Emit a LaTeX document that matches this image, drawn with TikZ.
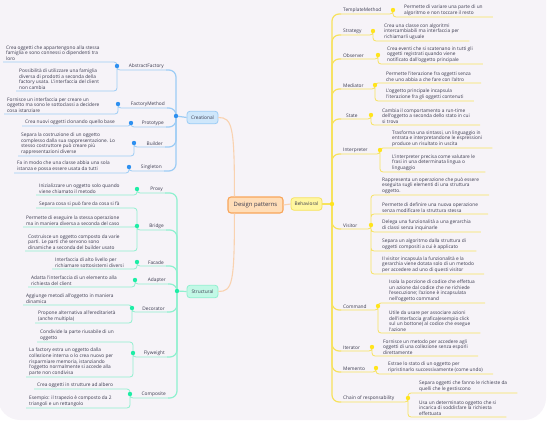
\documentclass[tikz,border=0pt]{standalone}
\usepackage{fontspec}
\usepackage{tikz}
\newfontfamily\mapfont{Open Sans}
\newcommand{\mapsize}{\mapfont\fontsize{4.8}{5.7}\selectfont}
\definecolor{bgcol}{HTML}{F6F3F8}
\definecolor{txt}{HTML}{3A3A4E}
\definecolor{rootfill}{HTML}{FFDDB8}
\definecolor{rootline}{HTML}{F8A55A}
\definecolor{rootlink}{HTML}{F9D2B0}
\definecolor{crefill}{HTML}{CFE7FB}
\definecolor{creline}{HTML}{9CCCF5}
\definecolor{credot}{HTML}{2E90F0}
\definecolor{strfill}{HTML}{C2F8E6}
\definecolor{strline}{HTML}{8FF0CF}
\definecolor{strdot}{HTML}{1EEDA6}
\definecolor{behfill}{HTML}{FFF6A0}
\definecolor{behline}{HTML}{F6E25E}
\definecolor{behdot}{HTML}{FFE41C}

\begin{document}
\begin{tikzpicture}[x=1pt, y=-1pt]
\tikzstyle{root} = [draw=rootline, fill=rootfill, line width=1.1pt, rounded corners=3pt, minimum width=55pt, minimum height=16pt, inner sep=0pt, text=txt, font=\mapfont\fontsize{5.9}{7}\selectfont]
\tikzstyle{topic} = [line width=0.8pt, rounded corners=3pt, minimum width=31pt, minimum height=12.5pt, inner sep=0pt, text=txt, font=\mapsize]
\tikzstyle{lbl} = [inner xsep=2pt, inner ysep=1pt, text=txt, font=\mapsize]
\tikzstyle{leaf} = [align=left, inner xsep=3pt, inner ysep=1.2pt, text=txt, font=\mapsize, anchor=south west]
\tikzstyle{spine} = [draw, line width=1.2pt, rounded corners=7pt]
\tikzstyle{stem} = [draw, line width=0.8pt, rounded corners=3pt]

\useasboundingbox (0,0) rectangle (550,429);
\fill[bgcol, rounded corners=22pt] (-2,-30) rectangle (546,420);

% central topic and main branches
\node[root] (dp) at (255.5,205) {Design patterns};
\node[topic, draw=creline, fill=crefill] (cre) at (202.5,117.5) {Creational};
\node[topic, draw=strline, fill=strfill] (str) at (202.5,291.5) {Structural};
\node[topic, draw=behline, fill=behfill] (beh) at (306.5,204) {Behavioral};
\coordinate (cdot) at (176,116);
\coordinate (sdot) at (177,291);
\coordinate (bdot) at (332,204);

% Behavioral
\node[lbl, anchor=south west] (tml) at (341,14) {TemplateMethod};
\coordinate (tmd) at (393,10);
\node[leaf] (tm1) at (401,17) {Permette di variare una parte di un\\algoritmo e non toccare il resto};

\node[lbl, anchor=south west] (stl) at (341,35) {Strategy};
\coordinate (std) at (373,31);
\node[leaf] (st1) at (381,41) {Crea una classe con algoritmi\\intercambiabili ma interfaccia per\\richiamarli uguale};

\node[lbl, anchor=south west] (obl) at (341,59) {Observer};
\coordinate (obd) at (378,55);
\node[leaf] (ob1) at (384,64) {Crea eventi che si scatenano in tutti gli\\oggetti registrati quando viene\\notificato dall'oggetto principale};

\node[lbl, anchor=south west] (mel) at (341,89) {Mediator};
\coordinate (med) at (375,85);
\node[leaf] (me1) at (383,83) {Permette l'iterazione fra oggetti senza\\che uno abbia a che fare con l'altro};
\node[leaf] (me2) at (383,101) {L'oggetto principale incapsula\\l'iterazione fra gli oggetti contenuti};

\node[lbl, anchor=south west] (sal) at (344,119) {State};
\coordinate (sad) at (371,115);
\node[leaf] (sa1) at (379,125) {Cambia il comportamento a run-time\\dell'oggetto a seconda dello stato in cui\\si trova};

\node[lbl, anchor=south west] (inl) at (341,154) {Interpreter};
\coordinate (ind) at (380,150);
\node[leaf] (in1) at (389,148) {Trasforma una sintassi, un linguaggio in\\entrata e interpretandone le espressioni\\produce un risultato in uscita};
\node[leaf] (in2) at (389,172) {L'interpreter precisa come valutare le\\frasi in una determinata lingua o\\linguaggio};

\node[lbl, anchor=south west] (vil) at (341,229) {Visitor};
\coordinate (vid) at (371,225);
\node[leaf] (vi1) at (379,195) {Rappresenta un operazione che può essere\\eseguita sugli elementi di una struttura\\oggetto.};
\node[leaf] (vi2) at (379,214) {Permette di definire una nuova operazione\\senza modificare la struttura stessa};
\node[leaf] (vi3) at (379,232) {Delega una funzionalità a una gerarchia\\di classi senza inquinarle};
\node[leaf] (vi4) at (379,251) {Separa un algoritmo dalla struttura di\\oggetti compositi a cui è applicato};
\node[leaf] (vi5) at (379,274) {Il visitor incapsula la funzionalità e la\\gerarchia viene dotata solo di un metodo\\per accedere ad uno di questi visitor};

\node[lbl, anchor=south west] (col) at (341,310) {Command};
\coordinate (cod) at (378,306);
\node[leaf] (co1) at (386,303) {Isola la porzione di codice che effettua\\un azione dal codice che ne richiede\\l'esecuzione; l'azione è incapsulata\\nell'oggetto command};
\node[leaf] (co2) at (386,333) {Utile da usare per associare azioni\\dell'interfaccia grafica(esempio click\\sul un bottone) al codice che esegue\\l'azione};

\node[lbl, anchor=south west] (itl) at (341,351) {Iterator};
\coordinate (itd) at (372,347);
\node[leaf] (it1) at (380,356) {Fornisce un metodo per accedere agli\\oggetti di una collezione senza esporli\\direttamente};

\node[lbl, anchor=south west] (mml) at (341,372) {Memento};
\coordinate (mmd) at (376,368);
\node[leaf] (mm1) at (385,374) {Estrae lo stato di un oggetto per\\ripristinarlo successivamente (come undo)};

\node[lbl, anchor=south west] (chl) at (341,402) {Chain of responsability};
\coordinate (chd) at (408,398);
\node[leaf] (ch1) at (416,393) {Separa oggetti che fanno le richieste da\\quelli che le gestiscono};
\node[leaf] (ch2) at (416,417) {Usa un determinato oggetto che si\\incarica di soddisfare la richiesta\\effettuata};

% Creational
\node[lbl, anchor=south east] (afl) at (166,70) {AbstractFactory};
\coordinate (afd) at (117,66);
\node[leaf] (af1) at (3,62) {Crea oggetti che appartengono alla stessa\\famiglia e sono connessi o dipendenti tra\\loro};
\node[leaf] (af2) at (16,91) {Possibilità di utilizzare una famiglia\\diversa di prodotti a seconda della\\factory usata. L'interfaccia del client\\non cambia};

\node[lbl, anchor=south east] (fml) at (167,108) {FactoryMethod};
\coordinate (fmd) at (118,104);
\node[leaf] (fm1) at (4,114) {Fornisce un interfaccia per creare un\\oggetto ma sono le sottoclassi a decidere\\cosa istanziare};

\node[lbl, anchor=south east] (prl) at (166,127) {Prototype};
\coordinate (prd) at (131,123);
\node[leaf] (pr1) at (22,126) {Crea nuovi oggetti clonando quello base};

\node[lbl, anchor=south east] (bul) at (165,147) {Builder};
\coordinate (bud) at (134,143);
\node[leaf] (bu1) at (18,156) {Separa la costruzione di un oggetto\\complesso dalla sua rappresentazione.  Lo\\stesso costruttore può creare più\\rappresentazioni diverse};

\node[lbl, anchor=south east] (sil) at (164,171) {Singleton};
\coordinate (sid) at (129,167);
\node[leaf] (si1) at (14,173) {Fa in modo che una classe abbia una sola\\istanza e possa essere usata da tutti};

% Structural
\node[lbl, anchor=south east] (pxl) at (165,193) {Proxy};
\coordinate (pxd) at (137,189);
\node[leaf] (px1) at (36,195) {Inizializzare un oggetto solo quando\\viene chiamato il metodo};

\node[lbl, anchor=south east] (brl) at (166,230) {Bridge};
\coordinate (brd) at (137,226);
\node[leaf] (br1) at (36,208) {Separa cosa si può fare da cosa si fà};
\node[leaf] (br2) at (23,227) {Permette di eseguire la stessa operazione\\ma in maniera diversa a seconda del caso};
\node[leaf] (br3) at (25,251) {Costruisce un oggetto composto da varie\\parti.  Le parti che servono sono\\dinamiche a seconda del builder usato};

\node[lbl, anchor=south east] (fal) at (166,266) {Facade};
\coordinate (fad) at (137,262);
\node[leaf] (fa1) at (52,269) {Interfaccia di alto livello per\\richiamare sottosistemi diversi};

\node[lbl, anchor=south east] (adl) at (168,284) {Adapter};
\coordinate (add) at (135,280);
\node[leaf] (ad1) at (28,287) {Adatta l'interfaccia di un elemento alla\\richiesta del client};

\node[lbl, anchor=south east] (del) at (167,312) {Decorator};
\coordinate (ded) at (132,308);
\node[leaf] (de1) at (23,305) {Aggiunge metodi all'oggetto in maniera\\dinamica};
\node[leaf] (de2) at (35,323) {Propone alternativa all'ereditarietà\\(anche multipla)};

\node[lbl, anchor=south east] (fll) at (167,357) {Flyweight};
\coordinate (fld) at (133,353);
\node[leaf] (fl1) at (37,342) {Condivide la parte riusabile di un\\oggetto};
\node[leaf] (fl2) at (26,377) {La factory estra un oggetto dalla\\collezione interna o lo crea nuovo per\\risparmiare memoria, istanziando\\l'oggetto normalmente si accede alla\\parte non condivisa};

\node[lbl, anchor=south east] (cpl) at (168,398) {Composite};
\coordinate (cpd) at (130,394);
\node[leaf] (cp1) at (34,389) {Crea oggetti in strutture ad albero};
\node[leaf] (cp2) at (26,408) {Esempio: il trapezio è composto da 2\\triangoli e un rettangolo};

% links from the centre
\draw[rootlink, line width=1.1pt] ([xshift=7pt]dp.north west) .. controls +(0,-70) and +(14,0) .. (cre.east);
\draw[rootlink, line width=1.1pt] ([xshift=7pt]dp.south west) .. controls +(0,70) and +(14,0) .. (str.east);
\draw[rootlink, line width=1.1pt] (dp.east) -- (beh.west);
\draw[spine, creline] (cre.west) -- (cdot);
\draw[spine, strline] (str.west) -- (sdot);
\draw[spine, behline] (beh.east) -- (bdot);

% behavioral branches
\draw[spine, behline] (bdot) |- (tml.south west);
\draw[stem, behline] (tml.south west) -| (tmd) (tmd) |- ([xshift=7pt]tm1.south east);
\draw[spine, behline] (bdot) |- (stl.south west);
\draw[stem, behline] (stl.south west) -| (std) (std) |- ([xshift=7pt]st1.south east);
\draw[spine, behline] (bdot) |- (obl.south west);
\draw[stem, behline] (obl.south west) -| (obd) (obd) |- ([xshift=7pt]ob1.south east);
\draw[spine, behline] (bdot) |- (mel.south west);
\draw[stem, behline] (mel.south west) -| (med) (med) |- ([xshift=7pt]me1.south east) (med) |- ([xshift=7pt]me2.south east);
\draw[spine, behline] (bdot) |- ([xshift=-3pt]sal.south west);
\draw[stem, behline] ([xshift=-3pt]sal.south west) -| (sad) (sad) |- ([xshift=7pt]sa1.south east);
\draw[spine, behline] (bdot) |- (inl.south west);
\draw[stem, behline] (inl.south west) -| (ind) (ind) |- ([xshift=7pt]in1.south east) (ind) |- ([xshift=7pt]in2.south east);
\draw[spine, behline] (bdot) |- (vil.south west);
\draw[stem, behline] (vil.south west) -| (vid) (vid) |- ([xshift=7pt]vi1.south east) (vid) |- ([xshift=7pt]vi2.south east) (vid) |- ([xshift=7pt]vi3.south east) (vid) |- ([xshift=7pt]vi4.south east) (vid) |- ([xshift=7pt]vi5.south east);
\draw[spine, behline] (bdot) |- (col.south west);
\draw[stem, behline] (col.south west) -| (cod) (cod) |- ([xshift=7pt]co1.south east) (cod) |- ([xshift=7pt]co2.south east);
\draw[spine, behline] (bdot) |- (itl.south west);
\draw[stem, behline] (itl.south west) -| (itd) (itd) |- ([xshift=7pt]it1.south east);
\draw[spine, behline] (bdot) |- (mml.south west);
\draw[stem, behline] (mml.south west) -| (mmd) (mmd) |- ([xshift=7pt]mm1.south east);
\draw[spine, behline] (bdot) |- (chl.south west);
\draw[stem, behline] (chl.south west) -| (chd) (chd) |- ([xshift=7pt]ch1.south east) (chd) |- ([xshift=7pt]ch2.south east);

% creational branches
\draw[spine, creline] (cdot) |- (afl.south east);
\draw[stem, creline] (afl.south east) -| (afd) (afd) |- (af1.south west) (afd) |- (af2.south west);
\draw[spine, creline] (cdot) |- (fml.south east);
\draw[stem, creline] (fml.south east) -| (fmd) (fmd) |- (fm1.south west);
\draw[spine, creline] (cdot) |- (prl.south east);
\draw[stem, creline] (prl.south east) -| (prd) (prd) |- (pr1.south west);
\draw[spine, creline] (cdot) |- (bul.south east);
\draw[stem, creline] (bul.south east) -| (bud) (bud) |- (bu1.south west);
\draw[spine, creline] (cdot) |- (sil.south east);
\draw[stem, creline] (sil.south east) -| (sid) (sid) |- (si1.south west);

% structural branches
\draw[spine, strline] (sdot) |- (pxl.south east);
\draw[stem, strline] (pxl.south east) -| (pxd) (pxd) |- (px1.south west);
\draw[spine, strline] (sdot) |- (brl.south east);
\draw[stem, strline] (brl.south east) -| (brd) (brd) |- (br1.south west) (brd) |- (br2.south west) (brd) |- (br3.south west);
\draw[spine, strline] (sdot) |- (fal.south east);
\draw[stem, strline] (fal.south east) -| (fad) (fad) |- (fa1.south west);
\draw[spine, strline] (sdot) |- (adl.south east);
\draw[stem, strline] (adl.south east) -| (add) (add) |- (ad1.south west);
\draw[spine, strline] (sdot) |- (del.south east);
\draw[stem, strline] (del.south east) -| (ded) (ded) |- (de1.south west) (ded) |- (de2.south west);
\draw[spine, strline] (sdot) |- (fll.south east);
\draw[stem, strline] (fll.south east) -| (fld) (fld) |- (fl1.south west) (fld) |- (fl2.south west);
\draw[spine, strline] (sdot) |- (cpl.south east);
\draw[stem, strline] (cpl.south east) -| (cpd) (cpd) |- (cp1.south west) (cpd) |- (cp2.south west);

% junction dots
\foreach \d in {bdot,tmd,std,obd,med,sad,ind,vid,cod,itd,mmd,chd} \fill[behdot] (\d) circle (2.2pt);
\foreach \d in {cdot,afd,fmd,prd,bud,sid} \fill[credot] (\d) circle (2.2pt);
\foreach \d in {sdot,pxd,brd,fad,add,ded,fld,cpd} \fill[strdot] (\d) circle (2.2pt);
\end{tikzpicture}
\end{document}
